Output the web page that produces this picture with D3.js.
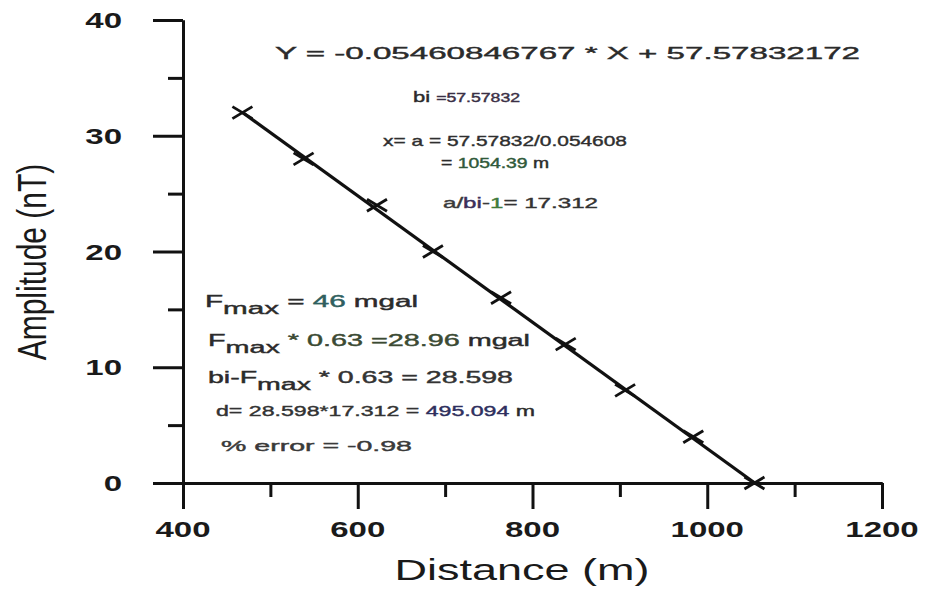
<!DOCTYPE html>
<html>
<head>
<meta charset="utf-8">
<script src="https://cdn.jsdelivr.net/npm/d3@7"></script>
<style>
  html, body { margin: 0; padding: 0; background: #fff; }
  svg { display: block; }
  text { font-family: Arial, "Liberation Sans", sans-serif; }
</style>
</head>
<body>
<svg id="chart" width="927" height="615"></svg>
<script>
// Measured anomaly amplitudes along the profile
const distance  = [468, 538, 622, 686, 764, 838, 906, 984, 1054];
const amplitude = [32, 28, 24, 20, 16, 12, 8, 4, 0];

// Least-squares line through the points
const slope = -0.05460846767;
const intercept = 57.57832172;

// Axis ticks
const xMajor = [400, 600, 800, 1000, 1200];
const xMinor = [500, 700, 900, 1100];
const yMajor = [0, 10, 20, 30, 40];
const yMinor = [5, 15, 25, 35];

// Annotation lines: each is a list of [text, kind, colour]
const notes = [
  [["Y = -0.05460846767 * X + 57.57832172", "n", "#2b2b2b"]],
  [["bi ", "n", "#2b2b2b"], ["=57.57832", "s", "#3a2f45"]],
  [["x= a = 57.57832/0.054608", "n", "#2f2f2f"]],
  [["= ", "n", "#2b2b2b"], ["1054.39", "n", "#2f5a3a"], [" m", "n", "#2b2b2b"]],
  [["a/", "n", "#3a3a3a"], ["bi", "n", "#3c2f5a"], ["-", "n", "#3a3a3a"], ["1", "n", "#3f7a3a"], ["= 17.312", "n", "#333"]],
  [["F", "n", "#2b2b2b"], ["max", "sub", "#2b2b2b"], [" = ", "n", "#2b2b2b"], ["46", "n", "#2f5f60"], [" mgal", "n", "#2b2b2b"]],
  [["F", "n", "#2b2b2b"], ["max", "sub", "#2b2b2b"], [" * 0.63 =28.96", "n", "#3b4a33"], [" mgal", "n", "#2b2b2b"]],
  [["bi-F", "n", "#2b2b2b"], ["max", "sub", "#2b2b2b"], [" * 0.63 = 28.598", "n", "#333"]],
  [["d= 28.598*17.312 = ", "n", "#333"], ["495.094", "n", "#2e2f5e"], [" m", "n", "#2b2b2b"]],
  [["% error = -0.98", "n", "#3a3a3a"]]
];

// Placement of each annotation line: left x, baseline y, font size, total width
const noteLayout = [
  { x: 275, y: 59,  size: 17, w: 585 },
  { x: 413, y: 102, size: 15, w: 107 },
  { x: 383, y: 146, size: 15, w: 244 },
  { x: 441, y: 168, size: 14, w: 108 },
  { x: 443, y: 208, size: 15, w: 155 },
  { x: 205, y: 307, size: 16, w: 213 },
  { x: 208, y: 346, size: 16, w: 322 },
  { x: 208, y: 383, size: 16, w: 305 },
  { x: 216, y: 416, size: 15, w: 319 },
  { x: 221, y: 451, size: 15, w: 191 }
];

const svg = d3.select("#chart");
const ink = "#111";
const stretch = 1.5;

const x = d3.scaleLinear().domain([400, 1200]).range([183, 882]);
const y = d3.scaleLinear().domain([0, 40]).range([483, 20]);

// Axes (outward ticks, heavy strokes)
function styleAxis(g) {
  g.selectAll("path.domain").attr("stroke", ink).attr("stroke-width", 3);
  g.selectAll(".tick line").attr("stroke", ink).attr("stroke-width", 3);
  g.selectAll(".tick text").remove();
}

svg.append("g")
  .attr("transform", `translate(0,${y(0)})`)
  .call(d3.axisBottom(x).tickValues(xMinor).tickSize(14).tickSizeOuter(0).tickFormat(""))
  .call(styleAxis);
svg.append("g")
  .attr("transform", `translate(0,${y(0)})`)
  .call(d3.axisBottom(x).tickValues(xMajor).tickSize(26).tickSizeOuter(0).tickFormat(""))
  .call(styleAxis);
svg.append("g")
  .attr("transform", `translate(${x(400)},0)`)
  .call(d3.axisLeft(y).tickValues(yMinor).tickSize(15).tickSizeOuter(0).tickFormat(""))
  .call(styleAxis);
svg.append("g")
  .attr("transform", `translate(${x(400)},0)`)
  .call(d3.axisLeft(y).tickValues(yMajor).tickSize(30).tickSizeOuter(0).tickFormat(""))
  .call(styleAxis);

// Tick labels (bold, horizontally stretched)
svg.append("g").selectAll("text").data(xMajor).join("text")
  .attr("transform", d => `translate(${x(d)},537) scale(${stretch},1)`)
  .attr("text-anchor", "middle")
  .attr("font-size", 22).attr("font-weight", "bold").attr("fill", "#1a1a1a")
  .text(d => d);

svg.append("g").selectAll("text").data(yMajor).join("text")
  .attr("transform", d => `translate(122,${y(d) + 8}) scale(${stretch},1)`)
  .attr("text-anchor", "end")
  .attr("font-size", 22).attr("font-weight", "bold").attr("fill", "#1a1a1a")
  .text(d => d);

// Axis titles
svg.append("text")
  .attr("transform", `translate(522,580) scale(${stretch},1)`)
  .attr("text-anchor", "middle")
  .attr("font-size", 30).attr("fill", "#1a1a1a")
  .text("Distance (m)");

svg.append("text")
  .attr("transform", `translate(46,262) scale(1.35,1) rotate(-90)`)
  .attr("text-anchor", "middle")
  .attr("font-size", 30).attr("fill", "#1a1a1a")
  .text("Amplitude (nT)");

// Regression line from the first station to the zero crossing
const xStart = d3.min(distance);
const xEnd = -intercept / slope;
svg.append("line")
  .attr("x1", x(xStart)).attr("y1", y(slope * xStart + intercept))
  .attr("x2", x(xEnd)).attr("y2", y(slope * xEnd + intercept))
  .attr("stroke", ink).attr("stroke-width", 3.2);

// Station markers
const pts = distance.map((d, i) => [d, amplitude[i]]);
const cross = svg.append("g").selectAll("g").data(pts).join("g")
  .attr("transform", d => `translate(${x(d[0])},${y(d[1])})`);
cross.append("line").attr("x1", -10).attr("y1", -6).attr("x2", 10).attr("y2", 6)
  .attr("stroke", ink).attr("stroke-width", 2.8);
cross.append("line").attr("x1", -10).attr("y1", 6).attr("x2", 10).attr("y2", -6)
  .attr("stroke", ink).attr("stroke-width", 2.8);

// Annotation text
notes.forEach((segs, i) => {
  const L = noteLayout[i];
  const t = svg.append("text")
    .attr("x", L.x).attr("y", L.y)
    .attr("font-size", L.size)
    .attr("textLength", L.w)
    .attr("lengthAdjust", "spacingAndGlyphs");
  segs.forEach(([str, kind, col], j) => {
    const s = t.append("tspan").text(str)
      .attr("fill", col).attr("stroke", col).attr("stroke-width", 0.4);
    if (kind === "sub") s.attr("dy", 7);
    else if (j > 0 && segs[j - 1][1] === "sub") s.attr("dy", -7);
    if (kind === "s") s.attr("font-size", L.size * 0.8);
  });
});
</script>
</body>
</html>
